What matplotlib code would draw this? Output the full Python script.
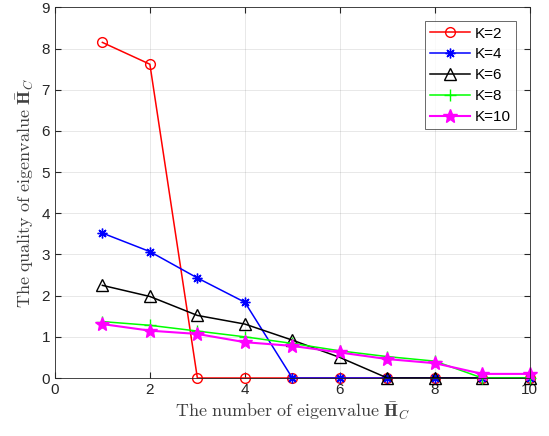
import matplotlib
matplotlib.use("Agg")
import matplotlib.pyplot as plt

x = [1, 2, 3, 4, 5, 6, 7, 8, 9, 10]
k2 = [8.15, 7.62, 0, 0, 0, 0, 0, 0, 0, 0]
k4 = [3.52, 3.07, 2.43, 1.84, 0, 0, 0, 0, 0, 0]
k6 = [2.25, 1.98, 1.52, 1.31, 0.92, 0.50, 0, 0, 0, 0]
k8 = [1.37, 1.28, 1.14, 1.00, 0.84, 0.66, 0.52, 0.41, 0, 0]
k10 = [1.31, 1.15, 1.07, 0.87, 0.78, 0.62, 0.46, 0.36, 0.10, 0.10]
labels = ["K=2", "K=4", "K=6", "K=8", "K=10"]
xticks = [0, 2, 4, 6, 8, 10]
yticks = [0, 1, 2, 3, 4, 5, 6, 7, 8, 9]

plt.rcParams['font.family'] = ['Liberation Sans', 'DejaVu Sans']
plt.rcParams['mathtext.fontset'] = 'cm'

fig = plt.figure(figsize=(5.49, 4.36), dpi=100)
ax = fig.add_axes([0.100, 0.133, 0.865, 0.850])

ax.plot(x, k2, color=(1, 0, 0), marker='o', markerfacecolor='none', markersize=7, lw=1.1, label=labels[0], clip_on=False)
ax.plot(x, k4, color=(0, 0, 1), marker=(8, 2, 0), markersize=7, lw=1.1, label=labels[1], clip_on=False)
ax.plot(x, k6, color='black', marker='^', markerfacecolor='none', markersize=8, lw=1.1, label=labels[2], clip_on=False)
ax.plot(x, k8, color=(0, 1, 0), marker='+', markersize=8, lw=1.1, label=labels[3], clip_on=False)
ax.plot(x, k10, color=(1, 0, 1), marker='*', markersize=10, lw=1.5, label=labels[4], clip_on=False)

ax.set_xlim(0, 10)
ax.set_ylim(0, 9)
ax.set_xticks(xticks)
ax.set_yticks(yticks)
ax.grid(True, color='#262626', alpha=0.12, lw=0.6)
ax.set_axisbelow(True)
ax.tick_params(direction='in', top=True, right=True, labelsize=11, colors='#262626', length=4)
for s in ax.spines.values():
    s.set_color('#262626')
    s.set_linewidth(0.6)

ax.set_xlabel(r'$\mathrm{The\ number\ of\ eigenvalue}\ \bar{\mathbf{H}}_C$', fontsize=13, color='#404040', labelpad=2)
ax.set_ylabel(r'$\mathrm{The\ quality\ of\ eigenvalue}\ \bar{\mathbf{H}}_C$', fontsize=13, color='#404040', labelpad=4)

leg = ax.legend(loc='upper right', fontsize=11, frameon=True, fancybox=False, edgecolor='#262626',
                handlelength=2.6, borderaxespad=0.9, labelspacing=0.45, handletextpad=0.3, borderpad=0.35)
leg.get_frame().set_linewidth(0.6)

fig.savefig('out.png', dpi=100)
